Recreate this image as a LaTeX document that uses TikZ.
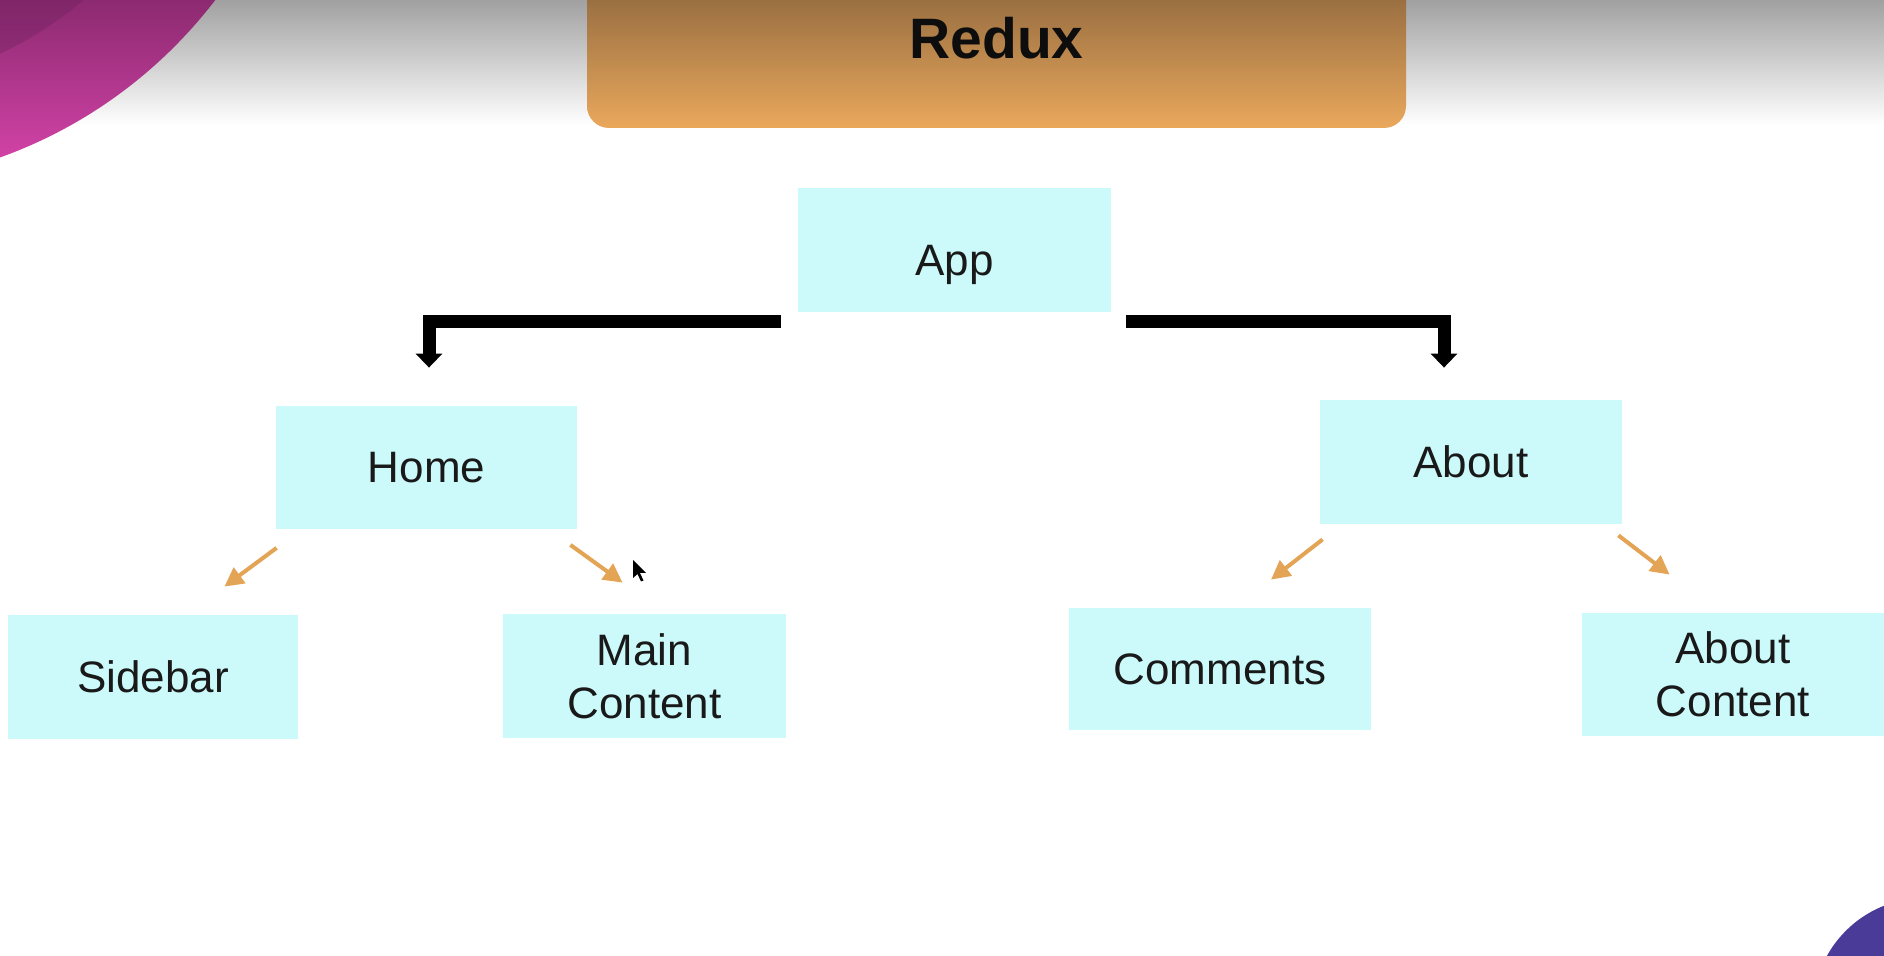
\documentclass[tikz,border=0pt]{standalone}
\usepackage{fontspec}
\setmainfont{Liberation Sans}
\usetikzlibrary{arrows.meta,calc}
\definecolor{boxfill}{RGB}{204,250,251}
\definecolor{orangearrow}{RGB}{227,164,86}
\definecolor{reduxtop}{RGB}{122,89,55}
\definecolor{reduxbot}{RGB}{234,168,92}
\definecolor{pinkdark}{RGB}{140,42,112}
\definecolor{pinklight}{RGB}{214,68,170}
\definecolor{pinkinner}{RGB}{128,38,104}
\definecolor{pinkinnerlow}{RGB}{150,46,122}
\definecolor{purplecorner}{RGB}{74,59,152}
\begin{document}
\begin{tikzpicture}[x=0.5pt,y=-0.5pt,
  comp/.style={fill=boxfill, inner sep=0pt, font=\fontsize{22}{26.5}\selectfont, text=black!90, align=center},
  reduxbox/.style={rounded corners=11pt, top color=reduxtop, bottom color=reduxbot, inner sep=0pt,
    minimum width=409.5pt, minimum height=90pt, font=\fontsize{28.5}{34}\selectfont\bfseries, text=black!95},
  bigarrow/.style={line width=6.5pt, line join=miter, -{Triangle[width=13pt,length=7pt]}},
  smallarrow/.style={orangearrow, line width=2pt, -{Triangle[width=9.5pt,length=9.5pt]}}]
\useasboundingbox (0,0) rectangle (1884,956);
% top shadow band
\shade[top color=black!37, bottom color=white] (0,0) rectangle (1884,125);
% pink corner decoration
\begin{scope}
  \clip (-159,-286) circle [radius=235.5pt];
  \shade[top color=pinkdark, bottom color=pinklight] (0,0) rectangle (260,170);
\end{scope}
\begin{scope}
  \clip (-159,-286) circle [radius=187.5pt];
  \shade[top color=pinkinner, bottom color=pinkinnerlow] (0,0) rectangle (100,80);
\end{scope}
% purple corner decoration
\fill[purplecorner] (1925,1010) circle [radius=56pt];
% title
\node[reduxbox] (redux) at (996.5,38) {Redux};
% components
\node[comp, minimum width=156.5pt, minimum height=62pt, text height=25pt, text depth=0pt] (app) at (954.5,250.5) {App};
\node[comp, minimum width=150.5pt, minimum height=61.5pt] (home) at (426.5,467.5) {Home};
\node[comp, minimum width=151pt, minimum height=62pt] (about) at (1471,462) {About};
\node[comp, minimum width=145pt, minimum height=62pt] (sidebar) at (153,677) {Sidebar};
\node[comp, minimum width=141.5pt, minimum height=62pt] (main) at (644.5,676) {Main\\Content};
\node[comp, minimum width=151pt, minimum height=61pt] (comments) at (1220,669) {Comments};
\node[comp, minimum width=151pt, minimum height=61.5pt] (aboutcontent) at (1733,674.5) {About\\Content};
% black connectors
\draw[bigarrow] ($(app.south west)+(-17,9)$) -| ($(home.north)+(2.5,-38)$);
\draw[bigarrow] ($(app.south east)+(15,9)$) -| ($(about.north)+(-27,-32)$);
% orange connectors
\draw[smallarrow] ($(home.south west)+(1,18.5)$) -- ($(sidebar.north east)+(-74,-28)$);
\draw[smallarrow] ($(home.south east)+(-7,15.5)$) -- ($(main.north west)+(120,-31)$);
\draw[smallarrow] ($(about.south west)+(3,15)$) -- ($(comments.north)+(51,-28)$);
\draw[smallarrow] ($(about.south east)+(-4,11)$) -- ($(aboutcontent.north west)+(88,-38)$);
% mouse pointer
\fill[black] (633,560) -- (633,578) -- (637.5,574) -- (641,581.5) -- (643.5,580.5) -- (640,573) -- (646,573) -- cycle;
\end{tikzpicture}
\end{document}
